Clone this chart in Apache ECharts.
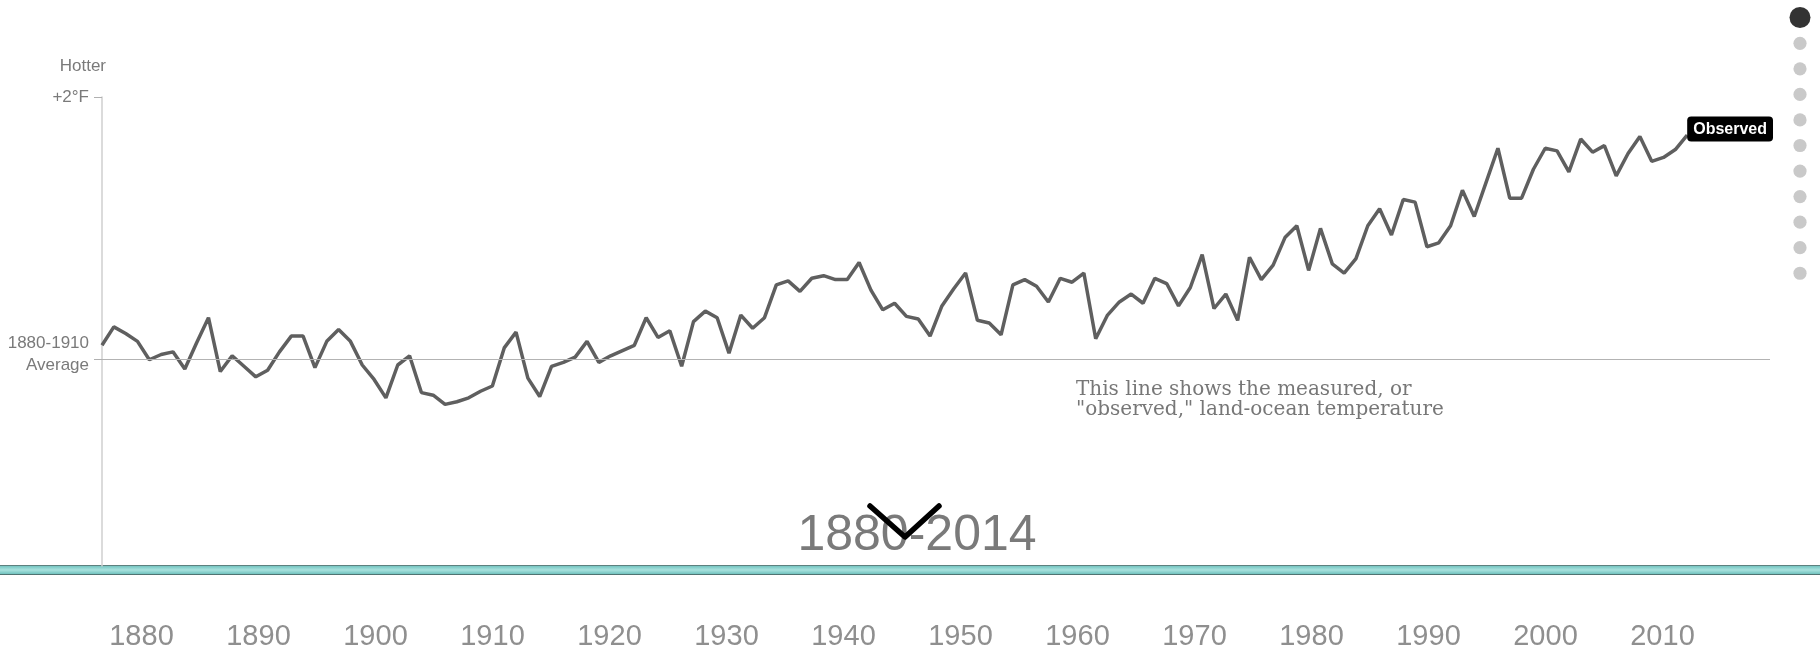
<!DOCTYPE html>
<html>
<head>
<meta charset="utf-8">
<style>
  html, body { margin: 0; padding: 0; background: #fff; }
  #container { width: 1820px; height: 652px; }
</style>
</head>
<body>
<div id="container"></div>
<script src="https://cdn.jsdelivr.net/npm/echarts@6/dist/echarts.min.js"></script>
<script>
// observed land-ocean temperature, °F relative to the 1880-1910 average
var startYear = 1880;
var observed = [
  0.11, 0.25, 0.20, 0.14, 0.00, 0.04, 0.06, -0.07, 0.13, 0.32,
  -0.09, 0.03, -0.05, -0.13, -0.08, 0.06, 0.18, 0.18, -0.06, 0.14,
  0.23, 0.14, -0.04, -0.15, -0.29, -0.04, 0.03, -0.25, -0.27, -0.34,
  -0.32, -0.29, -0.24, -0.20, 0.09, 0.21, -0.14, -0.28, -0.05, -0.02,
  0.02, 0.14, -0.02, 0.03, 0.07, 0.11, 0.32, 0.17, 0.22, -0.05,
  0.29, 0.37, 0.32, 0.05, 0.34, 0.24, 0.32, 0.57, 0.60, 0.52,
  0.62, 0.64, 0.61, 0.61, 0.74, 0.53, 0.38, 0.43, 0.33, 0.31,
  0.18, 0.41, 0.54, 0.66, 0.30, 0.28, 0.19, 0.57, 0.61, 0.56,
  0.44, 0.62, 0.59, 0.66, 0.16, 0.34, 0.44, 0.50, 0.43, 0.62,
  0.58, 0.41, 0.55, 0.80, 0.39, 0.50, 0.30, 0.78, 0.61, 0.72,
  0.93, 1.02, 0.68, 1.00, 0.73, 0.66, 0.77, 1.02, 1.15, 0.95,
  1.22, 1.20, 0.86, 0.89, 1.02, 1.29, 1.09, 1.35, 1.61, 1.23,
  1.23, 1.45, 1.61, 1.59, 1.43, 1.68, 1.58, 1.63, 1.40, 1.57,
  1.70, 1.51, 1.54, 1.60, 1.71
];
var yTicks = [0, 2];
var yTickLabels = { 0: '{avg|1880-1910}\n{avg|Average}\n{sp|}', 2: '+2°F' };
var decadeLabels = ['1880', '1890', '1900', '1910', '1920', '1930', '1940',
  '1950', '1960', '1970', '1980', '1990', '2000', '2010'];
var rangeTitle = '1880-2014';
var noteText = 'This line shows the measured, or\n"observed," land-ocean temperature';

var lineData = observed.map(function (v, i) { return [startYear + i, v]; });

var sans = 'Liberation Sans, Arial, sans-serif';

// page dots on the right
var dots = [];
for (var i = 0; i < 11; i++) {
  dots.push({
    type: 'circle',
    shape: { cx: 1800, cy: i === 0 ? 17.5 : 43.3 + (i - 1) * 25.55, r: i === 0 ? 10.5 : 6.6 },
    style: { fill: i === 0 ? '#333' : '#c9c9c9' },
    silent: true
  });
}

var chart = echarts.init(document.getElementById('container'));

chart.setOption({
  animation: false,
  backgroundColor: '#fff',
  grid: [
    { left: 102, right: 50, top: 97, bottom: 86 },
    { left: 83, right: 99, top: 607, height: 10 }
  ],
  xAxis: [
    { type: 'value', gridIndex: 0, min: 1880, max: 2021, show: false },
    {
      type: 'category', gridIndex: 1, data: decadeLabels,
      axisLine: { show: false }, axisTick: { show: false },
      axisLabel: { color: '#8f8f8f', fontSize: 29, fontFamily: sans, margin: 5 }
    }
  ],
  yAxis: [
    {
      type: 'value', gridIndex: 0, min: -1.57, max: 2,
      splitLine: { show: false },
      axisLine: { show: true, lineStyle: { color: '#cfcfcf', width: 1.5 } },
      axisTick: { show: true, customValues: yTicks, length: 8, lineStyle: { color: '#b0b0b0' } },
      axisLabel: {
        customValues: yTicks,
        margin: 13,
        color: '#7a7a7a',
        fontSize: 17,
        fontFamily: sans,
        align: 'right',
        formatter: function (v) { return yTickLabels[v] || ''; },
        rich: {
          avg: { color: '#7a7a7a', fontSize: 17, fontFamily: sans, lineHeight: 22, align: 'right' },
          sp: { fontSize: 1, lineHeight: 10 }
        }
      }
    },
    { type: 'value', gridIndex: 1, show: false }
  ],
  graphic: [
    {
      type: 'text', x: 106, y: 66,
      style: { text: 'Hotter', fill: '#7a7a7a', fontSize: 17, fontFamily: sans, align: 'right', verticalAlign: 'middle' }
    },
    {
      type: 'text', x: 1076, y: 380,
      style: {
        text: noteText, fill: '#777', fontSize: 20, lineHeight: 20,
        fontFamily: 'DejaVu Serif, serif', verticalAlign: 'top'
      }
    },
    {
      type: 'text', x: 917, y: 536,
      style: {
        text: rangeTitle, fill: '#7a7a7a', fontSize: 50, fontFamily: sans,
        align: 'center', verticalAlign: 'middle'
      }
    },
    {
      type: 'polyline', z: 10,
      shape: { points: [[870, 506], [905, 537], [939, 506]] },
      style: { stroke: '#000', lineWidth: 5.5, lineCap: 'round', lineJoin: 'round', fill: null }
    },
    {
      type: 'rect',
      shape: { x: 0, y: 565, width: 1820, height: 10 },
      style: {
        fill: new echarts.graphic.LinearGradient(0, 0, 0, 1, [
          { offset: 0, color: '#4f5c5b' },
          { offset: 0.15, color: '#7cc9c5' },
          { offset: 0.5, color: '#a9e2de' },
          { offset: 0.85, color: '#78c6c2' },
          { offset: 1, color: '#3d4a49' }
        ])
      },
      silent: true
    }
  ].concat(dots),
  series: [
    {
      type: 'line',
      xAxisIndex: 0,
      yAxisIndex: 0,
      data: lineData,
      symbol: 'none',
      lineStyle: { color: '#5f5f5f', width: 3.5 },
      endLabel: {
        show: true,
        formatter: 'Observed',
        color: '#fff',
        backgroundColor: '#000',
        fontWeight: 'bold',
        fontSize: 16,
        fontFamily: sans,
        padding: [5, 6, 4, 6],
        borderRadius: 4,
        distance: 0,
        offset: [0, -6]
      },
      markLine: {
        silent: true,
        symbol: 'none',
        label: { show: false },
        lineStyle: { color: '#b3b3b3', width: 1, type: 'solid' },
        data: [{ yAxis: 0 }]
      }
    }
  ]
});
</script>
</body>
</html>
